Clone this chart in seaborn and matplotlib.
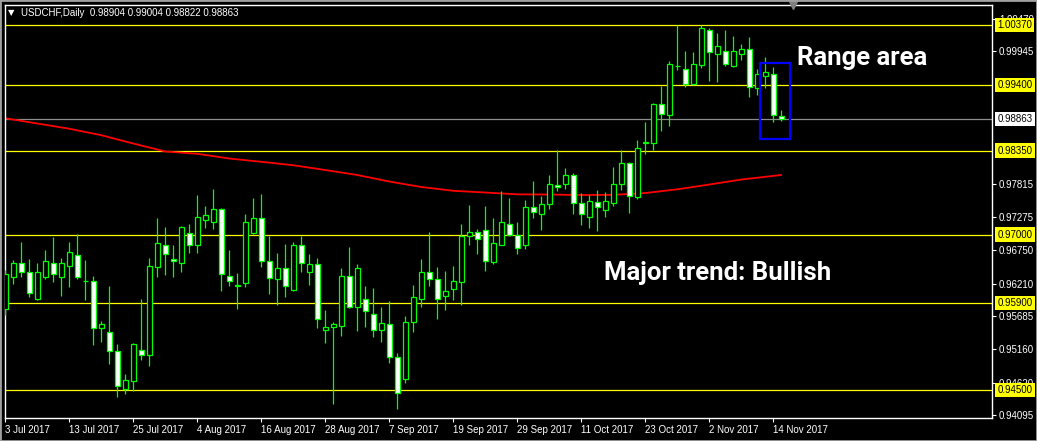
import matplotlib
matplotlib.use("Agg")
import matplotlib.pyplot as plt
import matplotlib.transforms as mtransforms
from matplotlib.patches import Rectangle
import seaborn as sns
import numpy as np

# USDCHF daily candles, 3 Jul 2017 .. 15 Nov 2017
opens = [0.9581, 0.9632, 0.9654, 0.9639, 0.9597, 0.9632, 0.9655, 0.9631, 0.9650, 0.9667,
         0.9626, 0.9625, 0.9549, 0.9543, 0.9512, 0.9451, 0.9465, 0.9515, 0.9507, 0.9648,
         0.9683, 0.9660, 0.9655, 0.9702, 0.9684, 0.9723, 0.9721, 0.9741, 0.9634, 0.9618,
         0.9622, 0.9703, 0.9726, 0.9657, 0.9628, 0.9646, 0.9611, 0.9684, 0.9639, 0.9652,
         0.9546, 0.9551, 0.9553, 0.9634, 0.9584, 0.9596, 0.9573, 0.9546, 0.9556, 0.9503,
         0.9468, 0.9560, 0.9597, 0.9639, 0.9628, 0.9602, 0.9612, 0.9624, 0.9697, 0.9704,
         0.9708, 0.9656, 0.9684, 0.9717, 0.9699, 0.9684, 0.9744, 0.9733, 0.9749, 0.9779,
         0.9782, 0.9795, 0.9750, 0.9729, 0.9752, 0.9739, 0.9751, 0.9782, 0.9815, 0.9760,
         0.9848, 0.9848, 0.9910, 0.9893, 0.9971, 0.9967, 0.9942, 0.9972, 1.0029, 0.9991,
         0.9995, 0.9971, 0.9991, 0.9998, 0.9935, 0.9955, 0.9959, 0.98904]
highs = [0.9643, 0.9659, 0.9688, 0.9661, 0.9654, 0.9675, 0.9696, 0.9662, 0.9688, 0.9701,
         0.9659, 0.9634, 0.9561, 0.9618, 0.9524, 0.9475, 0.9525, 0.9596, 0.9662, 0.9727,
         0.9712, 0.9683, 0.9713, 0.9717, 0.9764, 0.9746, 0.9773, 0.9742, 0.9675, 0.9638,
         0.9733, 0.9759, 0.9765, 0.9698, 0.9670, 0.9685, 0.9688, 0.9698, 0.9669, 0.9662,
         0.9579, 0.9560, 0.9646, 0.9680, 0.9653, 0.9617, 0.9614, 0.9583, 0.9593, 0.9509,
         0.9569, 0.9619, 0.9661, 0.9704, 0.9648, 0.9641, 0.9649, 0.9717, 0.9748, 0.9709,
         0.9746, 0.9727, 0.9770, 0.9759, 0.9720, 0.9756, 0.9786, 0.9762, 0.9795, 0.9836,
         0.9807, 0.9799, 0.9767, 0.9764, 0.9771, 0.9768, 0.9809, 0.9836, 0.9817, 0.9852,
         0.9881, 0.9912, 0.9939, 0.9979, 1.0037, 0.9995, 0.9994, 1.0037, 1.0033, 1.0024,
         1.0029, 1.0019, 1.0006, 1.0018, 0.9967, 0.9985, 0.9969, 0.99004]
lows = [0.9570, 0.9621, 0.9632, 0.9600, 0.9594, 0.9629, 0.9624, 0.9602, 0.9615, 0.9628,
        0.9594, 0.9523, 0.9527, 0.9492, 0.9438, 0.9444, 0.9449, 0.9499, 0.9489, 0.9632,
        0.9635, 0.9631, 0.9640, 0.9671, 0.9671, 0.9711, 0.9709, 0.9610, 0.9618, 0.9581,
        0.9615, 0.9701, 0.9648, 0.9605, 0.9586, 0.9600, 0.9609, 0.9640, 0.9619, 0.9550,
        0.9526, 0.9427, 0.9537, 0.9582, 0.9545, 0.9552, 0.9535, 0.9528, 0.9494, 0.9419,
        0.9462, 0.9544, 0.9584, 0.9617, 0.9565, 0.9579, 0.9594, 0.9587, 0.9684, 0.9668,
        0.9642, 0.9652, 0.9683, 0.9697, 0.9669, 0.9676, 0.9727, 0.9708, 0.9741, 0.9770,
        0.9773, 0.9733, 0.9715, 0.9711, 0.9705, 0.9729, 0.9746, 0.9772, 0.9735, 0.9757,
        0.9830, 0.9836, 0.9867, 0.9875, 0.9965, 0.9938, 0.9940, 0.9968, 0.9947, 0.9945,
        0.9971, 0.9970, 0.9980, 0.9921, 0.9924, 0.9935, 0.9881, 0.98822]
closes = [0.9636, 0.9654, 0.9639, 0.9606, 0.9639, 0.9657, 0.9637, 0.9654, 0.9672, 0.9632,
          0.9625, 0.9549, 0.9556, 0.9513, 0.9457, 0.9466, 0.9524, 0.9507, 0.9649, 0.9686,
          0.9668, 0.9657, 0.9712, 0.9684, 0.9728, 0.9731, 0.9741, 0.9636, 0.9625, 0.9618,
          0.9721, 0.9726, 0.9657, 0.9630, 0.9647, 0.9618, 0.9683, 0.9655, 0.9652, 0.9565,
          0.9551, 0.9556, 0.9634, 0.9584, 0.9646, 0.9577, 0.9546, 0.9557, 0.9503, 0.9445,
          0.9560, 0.9599, 0.9639, 0.9628, 0.9596, 0.9610, 0.9625, 0.9697, 0.9704, 0.9693,
          0.9658, 0.9686, 0.9720, 0.9700, 0.9678, 0.9745, 0.9736, 0.9749, 0.9782, 0.9776,
          0.9795, 0.9750, 0.9733, 0.9754, 0.9745, 0.9754, 0.9782, 0.9815, 0.9762, 0.9840,
          0.9848, 0.9910, 0.9894, 0.9974, 0.9971, 0.9942, 0.9974, 1.0032, 0.9993, 1.0003,
          0.9974, 0.9995, 0.9999, 0.9938, 0.9959, 0.9961, 0.9893, 0.98863]

# long moving average (red), sampled at these bars
ma_bars = [0, 4, 8, 12, 16, 20, 24, 28, 32, 36, 40, 44, 48, 52, 56, 60, 64, 68, 72, 76,
           80, 84, 88, 92, 97]
ma_values = [0.98870, 0.98786, 0.98702, 0.98598, 0.98464, 0.98336, 0.98299, 0.98223,
             0.98170, 0.98115, 0.98038, 0.97958, 0.97853, 0.97765, 0.97704, 0.97676,
             0.97647, 0.97644, 0.97636, 0.97639, 0.97668, 0.97728, 0.97805, 0.97885, 0.97958]

# horizontal levels and price scale
levels = [1.00370, 0.99400, 0.98350, 0.97000, 0.95900, 0.94500]
last_price = 0.98863
price_ticks = [1.00470, 0.99945, 0.97815, 0.97275, 0.96750, 0.96210, 0.95685,
               0.95160, 0.94620, 0.94095]
date_ticks = [0, 8, 16, 24, 32, 40, 48, 56, 64, 72, 80, 88, 96]
date_labels = ["3 Jul 2017", "13 Jul 2017", "25 Jul 2017", "4 Aug 2017", "16 Aug 2017",
               "28 Aug 2017", "7 Sep 2017", "19 Sep 2017", "29 Sep 2017", "11 Oct 2017",
               "23 Oct 2017", "2 Nov 2017", "14 Nov 2017"]

GREEN = "#00ff00"

sns.set_style("dark", {"axes.facecolor": "black", "figure.facecolor": "black",
                       "axes.edgecolor": "white", "text.color": "white",
                       "xtick.color": "white", "ytick.color": "white"})
plt.rcParams["font.family"] = ["Liberation Sans", "DejaVu Sans"]

fig = plt.figure(figsize=(10.37, 4.41), dpi=100)
ax = fig.add_axes([5 / 1037, 23 / 441, 987 / 1037, 413.5 / 441])
ax.set_xlim(-0.04, 123.34)
ax.set_ylim(0.94050, 1.00700)
ax.grid(False)

# support / resistance lines and current price line
for lvl in levels:
    ax.axhline(lvl, color="#ffff00", lw=0.9, zorder=1)
ax.axhline(last_price, color="#8c8c8c", lw=0.9, zorder=1)

# moving average
sns.lineplot(x=ma_bars, y=ma_values, color="#ff0000", lw=1.3, ax=ax, zorder=2)

# candles
idx = np.arange(len(opens))
o = np.array(opens)
c = np.array(closes)
bull = c >= o
body_lo = np.minimum(o, c)
body_h = np.maximum(np.abs(c - o), 0.00003)
ax.vlines(idx, lows, highs, color=GREEN, lw=0.9, zorder=3)
ax.bar(idx, body_h, bottom=body_lo, width=0.62,
       color=np.where(bull, "black", "white"), edgecolor=GREEN, linewidth=0.9, zorder=4)

# range box
ax.add_patch(Rectangle((94.4, 0.98537), 3.7, 0.99754 - 0.98537, fill=False,
                       ec="#0000ff", lw=1.6, zorder=5))

# annotations
ax.text(98.96, 0.99727, "Range area", fontsize=18.5, fontweight="bold",
        family=["Roboto", "Liberation Sans"], color="white",
        ha="left", va="baseline", zorder=6)
ax.text(74.84, 0.96269, "Major trend: Bullish", fontsize=18.5, fontweight="bold",
        family=["Roboto", "Liberation Sans"], color="white",
        ha="left", va="baseline", zorder=6)

# header
ax.text(0.0066, 0.980, "\u25bc", transform=ax.transAxes, fontsize=6, color="white",
        family=["DejaVu Sans"], ha="center", va="center")
ax.text(0.0159, 0.980, "USDCHF,Daily  0.98904 0.99004 0.98822 0.98863",
        transform=ax.transAxes, fontsize=7, color="white", ha="left", va="center")

# chart shift marker
ax.plot([98.5], [1.0], transform=mtransforms.blended_transform_factory(ax.transData, ax.transAxes),
        marker="v", ms=6, color="#808080", clip_on=False, zorder=7)

# axes styling
for s in ax.spines.values():
    s.set_color("white")
    s.set_linewidth(1)
ax.yaxis.tick_right()
ax.set_yticks(price_ticks)
ax.set_yticklabels([f"{p:.5f}" for p in price_ticks])
ax.tick_params(axis="y", length=3, width=0.8, pad=2, labelsize=7, colors="white", right=True, left=False)
ax.set_xticks(date_ticks)
ax.set_xticklabels(date_labels)
ax.tick_params(axis="x", length=3, width=0.8, pad=2, labelsize=7, colors="white", bottom=True)
for lbl in ax.get_xticklabels():
    lbl.set_horizontalalignment("left")

# highlighted price labels (they sit on top of the scale, as in the terminal)
tr = mtransforms.blended_transform_factory(ax.transAxes, ax.transData)
for lvl in levels:
    ax.text(1.0055, lvl, f"{lvl:.5f}", transform=tr, fontsize=7, color="black",
            ha="left", va="center", clip_on=False, zorder=8,
            bbox=dict(boxstyle="square,pad=0.22", fc="#ffff00", ec="none"))
ax.text(1.0055, last_price, f"{last_price:.5f}", transform=tr, fontsize=7, color="black",
        ha="left", va="center", clip_on=False, zorder=8,
        bbox=dict(boxstyle="square,pad=0.22", fc="white", ec="none"))

# outer frame of the terminal window
fig.patches.append(Rectangle((0, 0), 1, 1, transform=fig.transFigure, fill=False,
                             ec="#a0a0a0", lw=2))

fig.savefig("out.png", dpi=100, facecolor="black")
